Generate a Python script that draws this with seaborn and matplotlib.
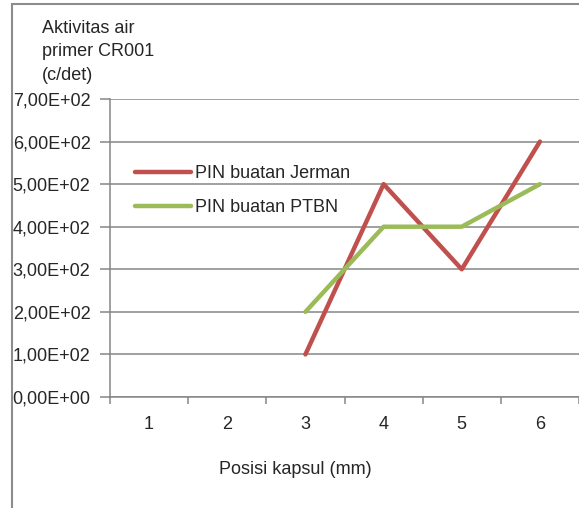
import numpy as np
import pandas as pd
import matplotlib
matplotlib.use("Agg")
import matplotlib.pyplot as plt
import matplotlib.ticker as mticker
from matplotlib.patches import Rectangle
import seaborn as sns

# data
posisi = [1, 2, 3, 4, 5, 6]
jerman = [np.nan, np.nan, 100, 500, 300, 600]
ptbn = [np.nan, np.nan, 200, 400, 400, 500]
series_names = ["PIN buatan Jerman", "PIN buatan PTBN"]
y_ticks = [0, 100, 200, 300, 400, 500, 600, 700]

df = pd.DataFrame({"posisi": posisi * 2,
                   "nilai": jerman + ptbn,
                   "seri": [series_names[0]] * 6 + [series_names[1]] * 6}).dropna()

sns.set_style("white")
plt.rcParams['font.family'] = ['Liberation Sans', 'DejaVu Sans']
fs = 13
plt.rcParams['font.size'] = fs

W, H = 579, 508
fig = plt.figure(figsize=(W / 100, H / 100), dpi=100)
ax = fig.add_axes([110 / W, (H - 397) / H, (W - 110) / W, (397 - 99) / H])

sns.lineplot(data=df, x="posisi", y="nilai", hue="seri",
             palette=["#C0504D", "#9BBB59"], linewidth=3.2,
             solid_capstyle="round", ax=ax, legend=True)

grid = "#868686"
ax.set_ylim(0, 700)
ax.set_xlim(0.5, 6.5)
ax.set_yticks(y_ticks)
ax.yaxis.set_major_formatter(mticker.FuncFormatter(
    lambda v, p: ("%.2fE+%02d" % (v / 100 if v else 0, 2 if v else 0)).replace(".", ",")))
ax.yaxis.grid(True, color=grid, linewidth=1.1)
ax.xaxis.grid(False)
ax.tick_params(axis="y", length=7, width=1.1, color=grid, pad=7, labelsize=fs, direction="out", left=True)

ax.set_xticks(np.arange(0.5, 7, 1))
ax.set_xticklabels([])
ax.set_xticks(posisi, minor=True)
ax.set_xticklabels([str(p) for p in posisi], minor=True)
ax.tick_params(axis="x", which="major", length=5, width=1.1, color=grid, direction="out", bottom=True)
ax.tick_params(axis="x", which="minor", length=0, pad=14, labelsize=fs)

for s in ["top", "right"]:
    ax.spines[s].set_visible(False)
for s in ["left", "bottom"]:
    ax.spines[s].set_color(grid)
    ax.spines[s].set_linewidth(1.1)

ax.set_xlabel("")
ax.set_ylabel("")
fig.text(295 / W, 1 - 470 / H, "Posisi kapsul (mm)", ha="center", va="center", fontsize=fs)
fig.text(42 / W, 1 - 20 / H, "Aktivitas air\nprimer CR001\n(c/det)", ha="left", va="top",
         fontsize=fs, linespacing=1.5)

handles, labels = ax.get_legend_handles_labels()
ax.legend(handles, labels, loc="upper left", bbox_to_anchor=(135 / W, 1 - 165 / H),
          bbox_transform=fig.transFigure, frameon=False, borderpad=0, borderaxespad=0,
          handlelength=3.1, handletextpad=0.2, labelspacing=0.95, fontsize=fs)

fig.patches.append(Rectangle((12 / W, -0.1), 1.2, 1.1 - 4 / H, transform=fig.transFigure,
                             fill=False, edgecolor="#8c8c8c", linewidth=1.5, zorder=10))

fig.savefig("out.png", dpi=100)
